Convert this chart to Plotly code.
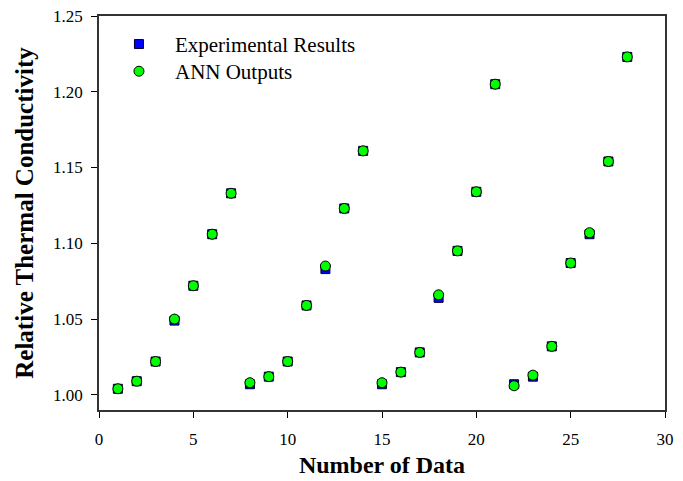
import plotly.graph_objects as go

data_index = list(range(1, 29))
experimental = [1.004, 1.009, 1.022, 1.049, 1.072, 1.106, 1.133,
                1.007, 1.012, 1.022, 1.059, 1.083, 1.123, 1.161,
                1.007, 1.015, 1.028, 1.064, 1.095, 1.134, 1.205,
                1.007, 1.012, 1.032, 1.087, 1.106, 1.154, 1.223]
ann_outputs = [1.004, 1.009, 1.022, 1.050, 1.072, 1.106, 1.133,
               1.008, 1.012, 1.022, 1.059, 1.085, 1.123, 1.161,
               1.008, 1.015, 1.028, 1.066, 1.095, 1.134, 1.205,
               1.006, 1.013, 1.032, 1.087, 1.107, 1.154, 1.223]
x_ticks = [0, 5, 10, 15, 20, 25, 30]
y_ticks = [1.00, 1.05, 1.10, 1.15, 1.20, 1.25]

FONT = "Liberation Serif, Times New Roman, serif"

fig = go.Figure()
fig.add_trace(go.Scatter(
    x=data_index, y=experimental, mode="markers", name="Experimental Results",
    marker=dict(symbol="square", size=9, color="#0000ff",
                line=dict(color="#000033", width=1)),
    legend="legend",
))
fig.add_trace(go.Scatter(
    x=data_index, y=ann_outputs, mode="markers", name="ANN Outputs",
    marker=dict(symbol="circle", size=10, color="#00ff00",
                line=dict(color="#000000", width=1)),
    legend="legend2",
))

leg_common = dict(xanchor="left", yanchor="top",
                  font=dict(size=21, family=FONT, color="black"),
                  bgcolor="rgba(0,0,0,0)", itemwidth=62)

fig.update_layout(
    width=683, height=481,
    margin=dict(l=99, r=18, t=16, b=71),
    paper_bgcolor="white", plot_bgcolor="white",
    font=dict(family=FONT, color="black"),
    showlegend=True,
    legend=dict(x=0.007, y=0.980, **leg_common),
    legend2=dict(x=0.007, y=0.911, **leg_common),
    xaxis=dict(range=[0, 30], tickvals=x_ticks, ticktext=[str(v) for v in x_ticks],
               ticks="outside", ticklen=6, tickwidth=1, tickcolor="black",
               showline=True, linecolor="#333333", linewidth=1.5, mirror=True,
               showgrid=False, zeroline=False, automargin=False,
               ticklabelstandoff=7,
               tickfont=dict(size=17, family=FONT),
               title=dict(text="<b>Number of Data</b>", font=dict(size=24, family=FONT),
                          standoff=8)),
    yaxis=dict(range=[0.99, 1.25], tickvals=y_ticks, ticktext=[f"{v:.2f}" for v in y_ticks],
               ticks="outside", ticklen=6, tickwidth=1, tickcolor="black",
               showline=True, linecolor="#333333", linewidth=1.5, mirror=True,
               showgrid=False, zeroline=False, automargin=False,
               ticklabelstandoff=5,
               tickfont=dict(size=17, family=FONT),
               title=dict(text="<b>Relative Thermal Conductivity</b>", font=dict(size=25, family=FONT),
                          standoff=12)),
)

fig.write_html("out.html", config={"displayModeBar": False},
               post_script="document.body.style.margin='0';")
